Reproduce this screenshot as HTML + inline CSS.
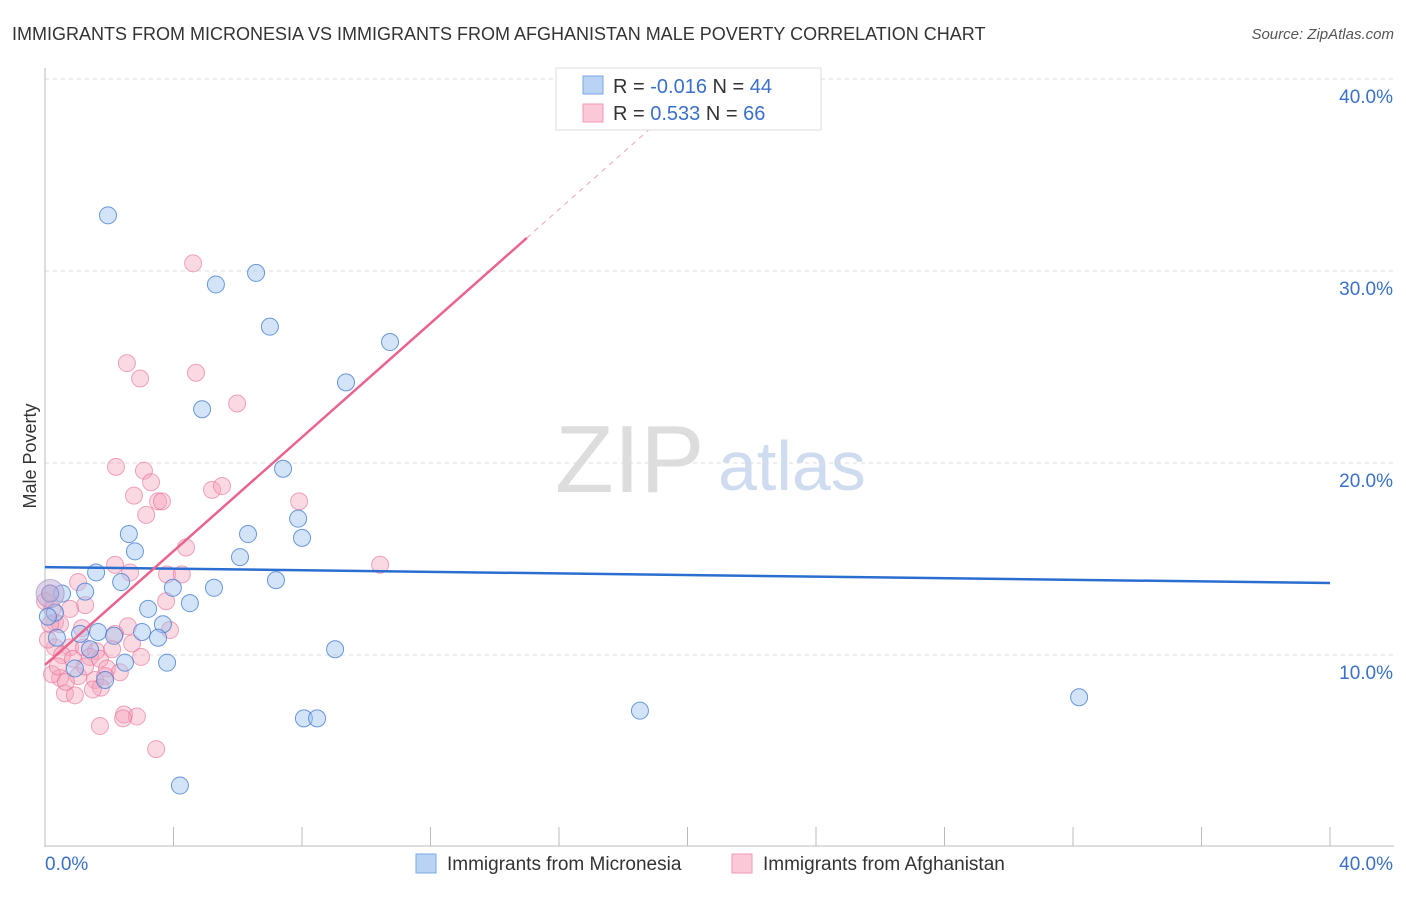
<!DOCTYPE html>
<html><head><meta charset="utf-8"><style>
body{margin:0;background:#fff;font-family:"Liberation Sans",sans-serif;}
svg text{font-family:"Liberation Sans",sans-serif;}
</style></head><body>
<svg id="c" width="1406" height="892" xmlns="http://www.w3.org/2000/svg">
<text x="12" y="40" font-size="18" fill="#333">IMMIGRANTS FROM MICRONESIA VS IMMIGRANTS FROM AFGHANISTAN MALE POVERTY CORRELATION CHART</text>
<text x="1394" y="39" font-size="15" fill="#555" font-style="italic" text-anchor="end">Source: ZipAtlas.com</text>
<text x="36" y="456" font-size="18" fill="#333" text-anchor="middle" transform="rotate(-90 36 456)">Male Poverty</text>
<text x="555" y="492" font-size="96" fill="#ddd" font-family="Liberation Serif">ZIP</text>
<text x="718" y="490" font-size="70" fill="#cfdcf0">atlas</text>
<g id="grid"></g><g id="axes"></g><g id="pts"></g><g id="lines"></g>
<g>
<rect x="556" y="68" width="265" height="62" fill="#fff" stroke="#ddd"/>
<rect x="583" y="76" width="20" height="18" fill="#b9d3f5" stroke="#7aa7e6"/>
<rect x="583" y="104" width="20" height="18" fill="#fbc8d7" stroke="#ef9ab5"/>
<text x="613" y="93" font-size="20" fill="#333">R = <tspan fill="#3a70c8">-0.016</tspan>   N = <tspan fill="#3a70c8">44</tspan></text>
<text x="613" y="120" font-size="20" fill="#333">R =  <tspan fill="#3a70c8"> 0.533</tspan>   N = <tspan fill="#3a70c8">66</tspan></text>
</g>
<g>
<rect x="416" y="854" width="20" height="19" fill="#b9d3f5" stroke="#7aa7e6"/>
<text x="447" y="870" font-size="19" fill="#333">Immigrants from Micronesia</text>
<rect x="732" y="854" width="20" height="19" fill="#fbc8d7" stroke="#ef9ab5"/>
<text x="763" y="870" font-size="19" fill="#333">Immigrants from Afghanistan</text>
</g>
</svg>
<script>
const yTicks=[10,20,30,40];
const xTickLabels=["0.0%","40.0%"];
const blueX=[1.96,5.32,6.57,7.00,10.74,9.37,4.89,7.41,7.88,8.00,6.32,2.61,2.80,6.07,1.59,2.37,7.19,5.26,1.25,0.53,3.98,4.51,3.21,3.67,1.65,1.09,2.15,3.02,3.52,0.37,1.40,9.03,2.49,3.80,0.93,1.87,18.52,8.06,8.47,32.19,4.20,0.16,0.31,0.09];
const blueY=[32.9,29.3,29.9,27.1,26.3,24.2,22.8,19.7,17.1,16.1,16.3,16.3,15.4,15.1,14.3,13.8,13.9,13.5,13.3,13.2,13.5,12.7,12.4,11.6,11.2,11.1,11.0,11.2,10.9,10.9,10.3,10.3,9.6,9.6,9.3,8.7,7.1,6.7,6.7,7.8,3.2,13.2,12.2,12.0];
const pinkX=[4.61,2.55,2.96,4.70,5.98,2.21,3.08,2.77,3.30,3.52,3.64,3.15,5.20,5.51,7.91,4.39,10.43,2.18,2.65,1.03,3.80,4.26,1.25,3.77,0.16,0.22,0.31,0.47,2.58,3.89,2.18,0.78,1.21,1.59,0.31,0.53,0.87,1.40,1.71,1.93,2.33,0.47,1.03,1.56,1.87,0.22,0.62,0.93,1.74,2.46,2.86,2.43,1.71,3.46,2.99,0.16,0.09,0.40,1.25,2.09,1.49,0.65,1.15,0.78,0.0,2.71];
const pinkY=[30.4,25.2,24.4,24.7,23.1,19.8,19.6,18.3,19.0,18.0,18.0,17.3,18.6,18.8,18.0,15.6,14.7,14.7,14.3,13.8,14.2,14.2,12.6,12.8,13.2,12.4,11.7,11.6,11.5,11.3,11.1,10.4,10.4,10.2,10.4,10.0,9.8,9.9,9.8,9.3,9.1,8.8,8.9,8.7,8.9,9.0,8.0,7.9,8.3,6.9,6.8,6.7,6.3,5.1,9.9,11.6,10.8,9.4,9.4,10.3,8.2,8.6,11.4,12.4,12.8,10.6];
const blueLine=[14.58,13.75];
const pinkIntercept=9.48, pinkSlope=1.483, pinkSolidEnd=15.0, pinkDashEnd=19.0;
const X=v=>45+v*32.125, Y=v=>847-v*19.2;
const NS="http://www.w3.org/2000/svg";
function mk(parent,tag,attrs){const e=document.createElementNS(NS,tag);for(const k in attrs)e.setAttribute(k,attrs[k]);document.getElementById(parent).appendChild(e);return e;}
for(const t of yTicks){
 const g=mk('grid','line',{x1:45,x2:1394,y1:Y(t),y2:Y(t),stroke:'#ddd','stroke-dasharray':'4,4'});
 
 
 const l=mk('grid','text',{x:1393,y:Y(t)+24,'font-size':19,fill:'#3a70c8','text-anchor':'end'});
 l.textContent=t.toFixed(1)+'%';
 
 
}
const ya=mk('axes','line',{x1:45,x2:45,y1:68,y2:847,stroke:'#bbb'});


const xa=mk('axes','line',{x1:45,x2:1394,y1:846,y2:846,stroke:'#bbb'});


for(let i=0;i<=10;i++){
 const tk=mk('axes','line',{x1:X(i*4),x2:X(i*4),y1:827,y2:846,stroke:'#bbb'});
 
 
}
[[45,'start',xTickLabels[0]],[1393,'end',xTickLabels[1]]].forEach(([x,a,s])=>{
 const t=mk('axes','text',{x:x,y:870,'font-size':19,fill:'#3a70c8','text-anchor':a});
 t.textContent=s;
 
 
});
for(let i=0;i<pinkX.length;i++){
 const c=mk('pts','circle',{cx:X(pinkX[i]),cy:Y(pinkY[i]),r:8.5,fill:'rgba(246,160,186,0.4)',stroke:'rgba(232,110,150,0.6)','stroke-width':1});
 
 
}
for(let i=0;i<blueX.length;i++){
 const c=mk('pts','circle',{cx:X(blueX[i]),cy:Y(blueY[i]),r:8.5,fill:'rgba(160,195,240,0.45)',stroke:'rgba(60,120,210,0.75)','stroke-width':1});
 
 
}
const big=mk('pts','circle',{cx:X(0.16),cy:Y(13.2),r:14,fill:'rgba(190,170,210,0.5)',stroke:'rgba(150,140,200,0.6)'});


const bl=mk('lines','line',{x1:X(0),y1:Y(blueLine[0]),x2:X(40),y2:Y(blueLine[1]),stroke:'#2a6fd0','stroke-width':2.5});


const pl=mk('lines','line',{x1:X(0),y1:Y(pinkIntercept),x2:X(pinkSolidEnd),y2:Y(pinkIntercept+pinkSlope*pinkSolidEnd),stroke:'#e8648e','stroke-width':2.5});


const pd=mk('lines','line',{x1:X(pinkSolidEnd),y1:Y(pinkIntercept+pinkSlope*pinkSolidEnd),x2:X(pinkDashEnd),y2:Y(pinkIntercept+pinkSlope*pinkDashEnd),stroke:'#f0a0b8','stroke-width':1,'stroke-dasharray':'5,5'});


</script>
</body></html>
